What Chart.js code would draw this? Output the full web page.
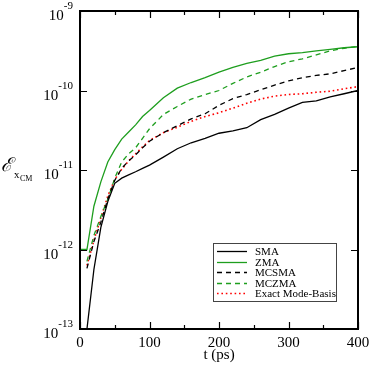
<!DOCTYPE html>
<html>
<head>
<meta charset="utf-8">
<script src="https://cdn.jsdelivr.net/npm/chart.js@4.4.0/dist/chart.umd.min.js"></script>
<style>
  html, body { margin: 0; padding: 0; background: #fff; }
  #wrap { width: 374px; height: 374px; }
</style>
</head>
<body>
<div id="wrap"><canvas id="chart"></canvas></div>
<script>
// time axis (ps)
const times = [0, 10, 20, 30, 40, 50, 60, 70, 80, 90, 100, 120, 140, 160, 180, 200,
  220, 240, 260, 280, 300, 320, 340, 360, 380, 400];

// series values
const sma = [null, 1.0e-13, 5.6e-13, 1.9e-12, 4.0e-12, 6.8e-12, 7.9e-12, 8.7e-12, 9.5e-12, 1.05e-11, 1.15e-11,
  1.45e-11, 1.85e-11, 2.2e-11, 2.5e-11, 2.9e-11, 3.1e-11, 3.4e-11, 4.3e-11, 5.0e-11, 6.0e-11,
  7.1e-11, 7.4e-11, 8.3e-11, 9.1e-11, 1.0e-10];
const zma = [1.0e-12, 1.0e-12, 3.5e-12, 7.1e-12, 1.26e-11, 1.8e-11, 2.45e-11, 3.0e-11, 3.7e-11, 4.7e-11, 5.6e-11,
  8.1e-11, 1.07e-10, 1.26e-10, 1.45e-10, 1.7e-10, 1.95e-10, 2.2e-10, 2.4e-10, 2.7e-10, 2.9e-10,
  3.0e-10, 3.15e-10, 3.3e-10, 3.45e-10, 3.55e-10];
const mcsma = [null, 5.8e-13, 1.26e-12, 2.2e-12, 4.3e-12, 7.4e-12, 1.05e-11, 1.3e-11, 1.55e-11, 1.9e-11, 2.3e-11,
  2.95e-11, 3.6e-11, 4.4e-11, 5.1e-11, 6.5e-11, 7.9e-11, 8.9e-11, 1.02e-10, 1.17e-10, 1.32e-10,
  1.45e-10, 1.55e-10, 1.62e-10, 1.78e-10, 1.95e-10];
const mczma = [null, 7.1e-13, 1.5e-12, 2.6e-12, 4.3e-12, 7.9e-12, 1.26e-11, 1.6e-11, 1.9e-11, 2.5e-11, 3.3e-11,
  5.0e-11, 6.3e-11, 7.8e-11, 8.9e-11, 1.0e-10, 1.23e-10, 1.48e-10, 1.7e-10, 2.0e-10, 2.3e-10,
  2.5e-10, 2.8e-10, 3.15e-10, 3.4e-10, 3.6e-10];
const exact = [null, 6.3e-13, 1.3e-12, 2.5e-12, 4.7e-12, 7.6e-12, 1.02e-11, 1.3e-11, 1.6e-11, 1.95e-11, 2.35e-11,
  2.95e-11, 3.45e-11, 4.1e-11, 4.7e-11, 5.25e-11, 6.0e-11, 6.9e-11, 7.8e-11, 8.5e-11, 8.9e-11,
  9.1e-11, 9.5e-11, 9.8e-11, 1.05e-10, 1.12e-10];

// tick labels
const xTicks = [0, 100, 200, 300, 400];
const xMinorTicks = [50, 150, 250, 350];
const yTicks = [1e-13, 1e-12, 1e-11, 1e-10, 1e-9];
const yTickExps = ['-13', '-12', '-11', '-10', '-9'];

const GREEN = '#1e9e1e';
const SERIF = '"Liberation Serif", "Times New Roman", serif';

const pts = (arr) => times.map((t, i) => ({ x: t, y: arr[i] })).filter(p => p.y !== null);

// axes, ticks, labels and legend are drawn here so they look like the xmgrace original
const framePlugin = {
  id: 'frame',
  afterDraw(chart) {
    const ctx = chart.ctx;
    const a = chart.chartArea;
    const xs = chart.scales.x;
    const ys = chart.scales.y;
    ctx.save();

    // box
    ctx.strokeStyle = '#000';
    ctx.lineWidth = 2;
    ctx.strokeRect(a.left, a.top, a.right - a.left, a.bottom - a.top);

    // ticks (inward, mirrored)
    ctx.lineWidth = 1.2;
    ctx.beginPath();
    xTicks.forEach(v => {
      const x = Math.round(xs.getPixelForValue(v)) + 0.5;
      ctx.moveTo(x, a.bottom); ctx.lineTo(x, a.bottom - 7);
      ctx.moveTo(x, a.top); ctx.lineTo(x, a.top + 7);
    });
    xMinorTicks.forEach(v => {
      const x = Math.round(xs.getPixelForValue(v)) + 0.5;
      ctx.moveTo(x, a.bottom); ctx.lineTo(x, a.bottom - 4);
      ctx.moveTo(x, a.top); ctx.lineTo(x, a.top + 4);
    });
    yTicks.forEach(v => {
      const y = Math.round(ys.getPixelForValue(v)) + 0.5;
      ctx.moveTo(a.left, y); ctx.lineTo(a.left + 7, y);
      ctx.moveTo(a.right, y); ctx.lineTo(a.right - 7, y);
    });
    ctx.stroke();

    // x tick labels
    ctx.fillStyle = '#000';
    ctx.font = '15px ' + SERIF;
    ctx.textAlign = 'center';
    ctx.textBaseline = 'alphabetic';
    xTicks.forEach(v => {
      ctx.fillText(String(v), xs.getPixelForValue(v), a.bottom + 18);
    });
    ctx.fillText('t (ps)', (a.left + a.right) / 2, a.bottom + 30);

    // y tick labels: 10 with superscript exponent, right-aligned
    yTicks.forEach((v, i) => {
      const y = ys.getPixelForValue(v);
      const right = a.left - 7;
      ctx.font = '11px ' + SERIF;
      const ew = ctx.measureText(yTickExps[i]).width;
      ctx.textAlign = 'left';
      ctx.fillText(yTickExps[i], right - ew, y - 2);
      ctx.font = '15px ' + SERIF;
      ctx.textAlign = 'right';
      ctx.fillText('10', right - ew, y + 9);
    });

    // y axis title
    ctx.textAlign = 'left';
    ctx.font = 'italic 19px "DejaVu Serif", serif';
    ctx.fillText('\u2130', 1, 171);
    ctx.font = '11px ' + SERIF;
    ctx.fillText('x', 14, 178);
    ctx.font = '8px ' + SERIF;
    ctx.fillText('CM', 20, 181);

    // legend
    const lx = 213, ly = 243, lw = 123, lh = 58;
    ctx.fillStyle = '#fff';
    ctx.fillRect(lx, ly, lw, lh);
    ctx.strokeStyle = '#444';
    ctx.lineWidth = 1;
    ctx.strokeRect(lx + 0.5, ly + 0.5, lw, lh);
    chart.data.datasets.forEach((ds, i) => {
      const y = Math.round(ly + 8 + i * 10.6) + 0.5;
      ctx.strokeStyle = ds.borderColor;
      ctx.lineWidth = ds.borderWidth;
      ctx.setLineDash(ds.borderDash || []);
      ctx.beginPath();
      ctx.moveTo(217, y); ctx.lineTo(247, y);
      ctx.stroke();
      ctx.setLineDash([]);
      ctx.fillStyle = '#000';
      ctx.font = '11px ' + SERIF;
      ctx.textAlign = 'left';
      ctx.textBaseline = 'middle';
      ctx.fillText(ds.label, 255, y + 0.5);
    });
    ctx.restore();
  }
};

new Chart(document.getElementById('chart'), {
  type: 'line',
  data: {
    datasets: [
      { label: 'SMA', data: pts(sma), borderColor: '#000', borderWidth: 1.3 },
      { label: 'ZMA', data: pts(zma), borderColor: GREEN, borderWidth: 1.3 },
      { label: 'MCSMA', data: pts(mcsma), borderColor: '#000', borderWidth: 1.3, borderDash: [5, 4] },
      { label: 'MCZMA', data: pts(mczma), borderColor: GREEN, borderWidth: 1.3, borderDash: [5, 4] },
      { label: 'Exact Mode-Basis', data: pts(exact), borderColor: '#ff0000', borderWidth: 1.6, borderDash: [1.6, 2.8] },
    ],
  },
  options: {
    responsive: true,
    maintainAspectRatio: false,
    animation: false,
    layout: { padding: { left: 80, right: 16, top: 11, bottom: 45 } },
    elements: {
      point: { radius: 0, hoverRadius: 0 },
      line: { tension: 0, fill: false },
    },
    plugins: {
      legend: { display: false },
      tooltip: { enabled: false },
    },
    scales: {
      x: { type: 'linear', min: 0, max: 400, display: false },
      y: { type: 'logarithmic', min: 1e-13, max: 1e-9, display: false },
    },
  },
  plugins: [framePlugin],
});
</script>
</body>
</html>
